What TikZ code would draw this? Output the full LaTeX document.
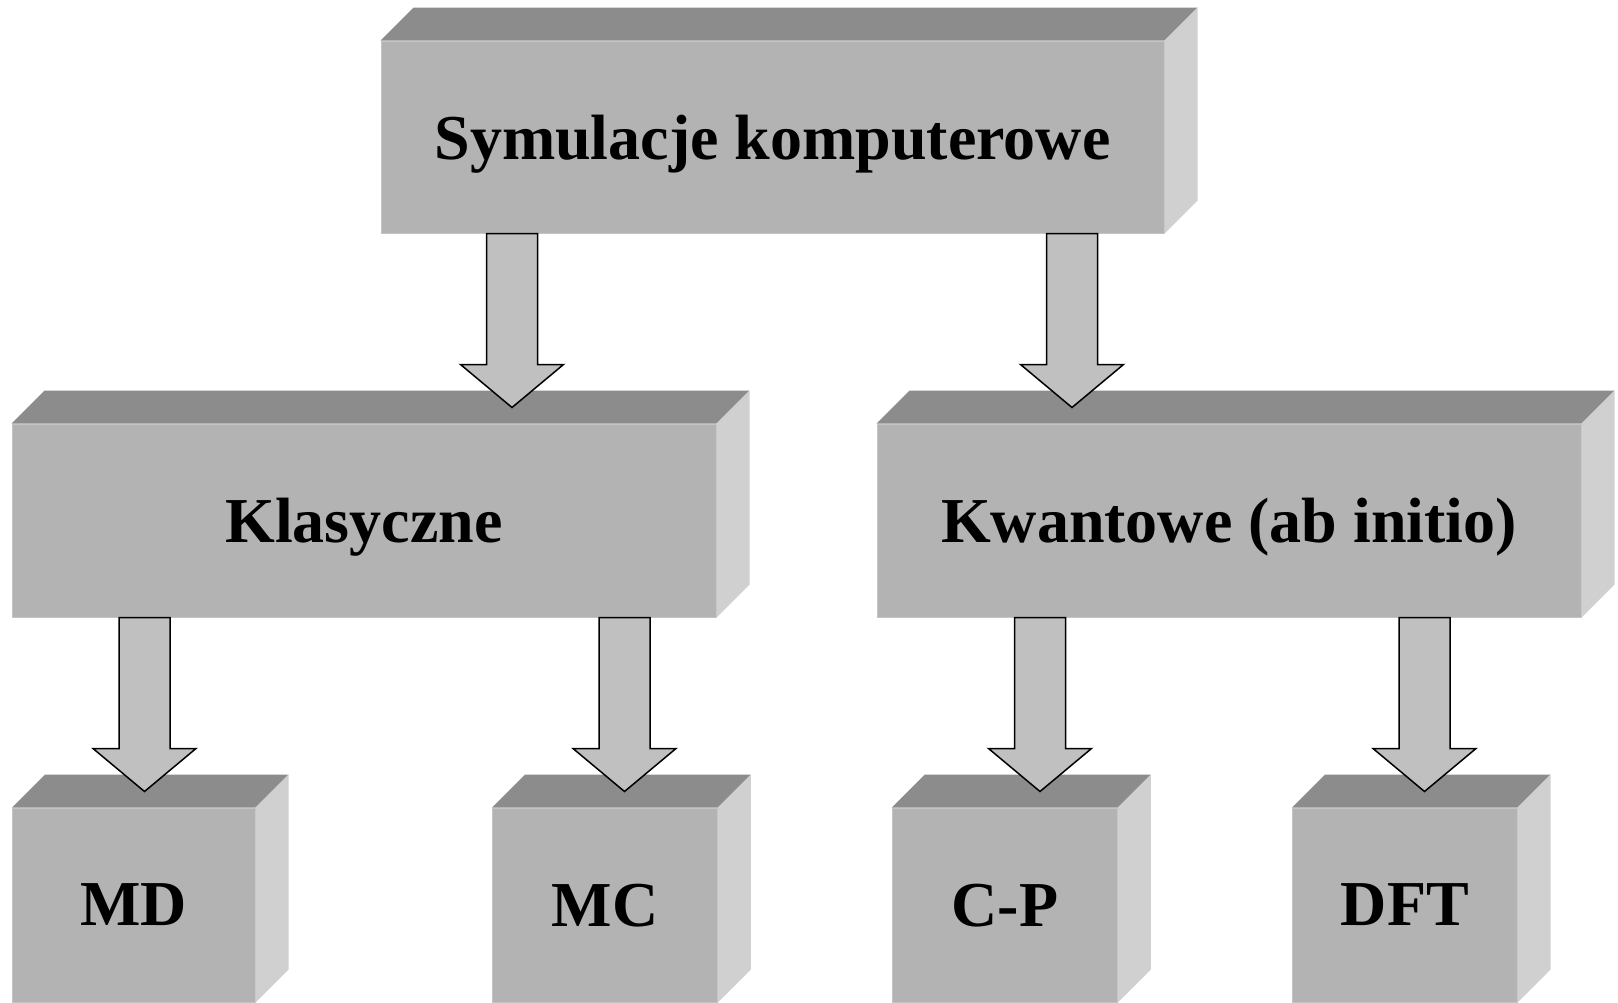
\documentclass[tikz,border=0pt]{standalone}
\usepackage{fontspec}
\setmainfont{Liberation Serif}
\usetikzlibrary{calc}
\definecolor{frontc}{HTML}{B3B3B3}
\definecolor{edgec}{HTML}{C4C4C4}
\definecolor{topc}{HTML}{8C8C8C}
\definecolor{sidec}{HTML}{D0D0D0}
\definecolor{arrc}{HTML}{C0C0C0}
\tikzset{
  box/.style={fill=frontc, draw=edgec, line width=1pt, inner sep=0pt, text depth=0pt,
    font=\fontsize{64}{76}\selectfont\bfseries, text=black},
  topface/.style={fill=topc, draw=none},
  sideface/.style={fill=sidec, draw=none},
  fatarr/.style={fill=arrc, draw=black, line width=1.5pt, line join=miter},
}
% top and right faces of a box node, depth 33
\newcommand\cubefaces[1]{%
  \path[topface] (#1.north west) -- ++(33,-33) -- ($(#1.north east)+(33,-33)$) -- (#1.north east) -- cycle;
  \path[sideface] (#1.north east) -- ++(33,-33) -- ($(#1.south east)+(33,-33)$) -- (#1.south east) -- cycle;
}
% fat down arrow at x=#1 from node #2 to node #3
\newcommand\fatarrow[3]{%
  \draw[fatarr] let \p1=(#2.south), \p2=(#3.north) in
    ({#1pt-25.5pt},\y1) -- ({#1pt+25.5pt},\y1) -- ({#1pt+25.5pt},{\y2+59pt})
    -- ({#1pt+51.5pt},{\y2+59pt}) -- ({#1pt},{\y2+16pt}) -- ({#1pt-51.5pt},{\y2+59pt})
    -- ({#1pt-25.5pt},{\y2+59pt}) -- cycle;
}
\begin{document}
\begin{tikzpicture}[x=1pt,y=-1pt]
\useasboundingbox (0,0) rectangle (1618,1002);
% boxes
\node[box, minimum width=783pt, minimum height=192pt] (top) at (772.5,137) {Symulacje komputerowe};
\node[box, minimum width=704pt, minimum height=193pt] (kl) at (364,520.5) {Klasyczne};
\node[box, minimum width=704pt, minimum height=193pt] (kw) at (1229,520.5) {Kwantowe (ab initio)};
\node[box, minimum width=242.5pt, minimum height=194pt] (md) at (133.75,905) {MD};
\node[box, minimum width=224.6pt, minimum height=194pt] (mc) at (605,905) {MC};
\node[box, minimum width=225pt, minimum height=194pt] (cp) at (1004.8,905) {C-P};
\node[box, minimum width=224.3pt, minimum height=194pt] (dft) at (1404.85,905) {DFT};
\cubefaces{top}
\cubefaces{kl}
\cubefaces{kw}
\cubefaces{md}
\cubefaces{mc}
\cubefaces{cp}
\cubefaces{dft}
% arrows
\fatarrow{512}{top}{kl}
\fatarrow{1072}{top}{kw}
\fatarrow{144.5}{kl}{md}
\fatarrow{624.5}{kl}{mc}
\fatarrow{1040}{kw}{cp}
\fatarrow{1424.5}{kw}{dft}
\end{tikzpicture}
\end{document}
